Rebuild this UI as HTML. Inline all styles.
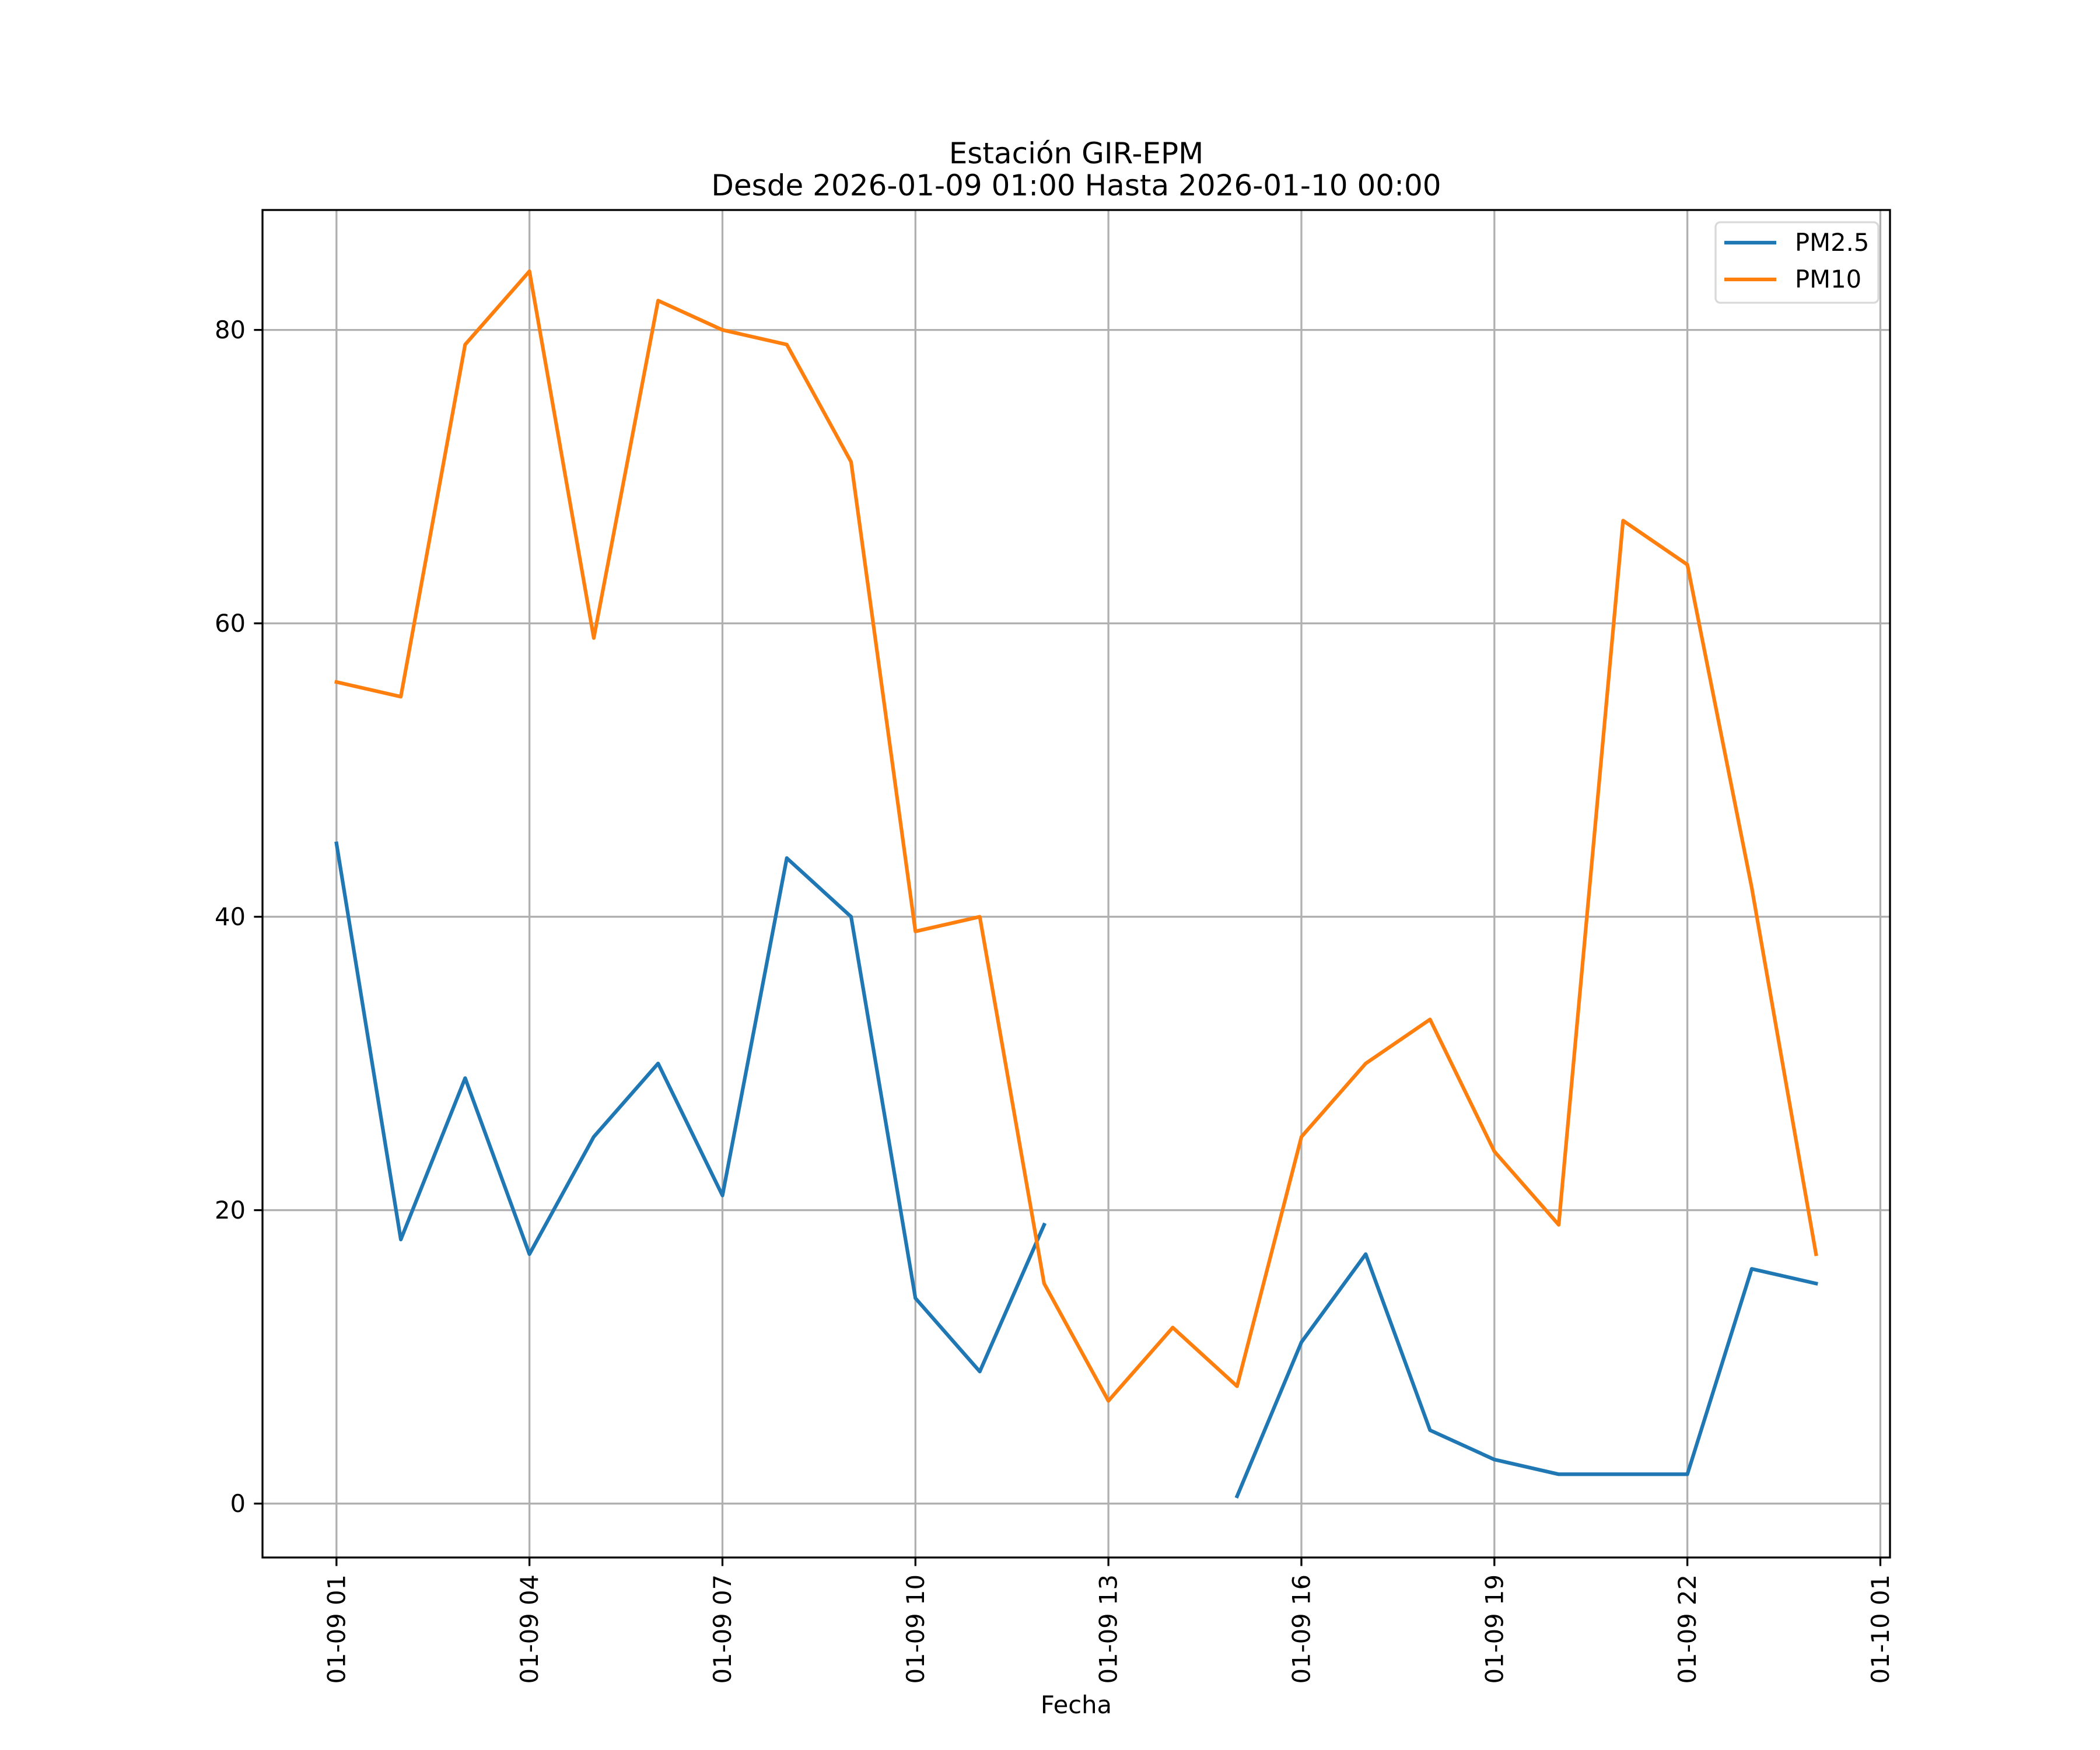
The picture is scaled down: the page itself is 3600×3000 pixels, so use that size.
<!DOCTYPE html>
<html><head><meta charset="utf-8"><style>
html,body{margin:0;padding:0;background:#fff;}
svg{display:block;font-family:"DejaVu Sans","Liberation Sans",sans-serif;}
</style></head><body>
<svg id="chart" width="3600" height="3000" viewBox="0 0 3600 3000" xmlns="http://www.w3.org/2000/svg">
<rect width="3600" height="3000" fill="#fff"/>
<text x="1845" y="280" font-size="50" text-anchor="middle">Estación GIR-EPM</text>
<text x="1845" y="335" font-size="50" text-anchor="middle">Desde 2026-01-09 01:00 Hasta 2026-01-10 00:00</text>
<g id="grid"></g>
<g id="series"></g>
<g id="axes"></g>
<text x="1845" y="2937" font-size="41.7" text-anchor="middle">Fecha</text>
<g>
<rect x="2941" y="381" width="279" height="138" rx="8" fill="#fff" fill-opacity="0.8" stroke="#d9d9d9" stroke-width="3.3"/>
<line x1="2956" y1="416" x2="3045" y2="416" stroke="#1f77b4" stroke-width="6.25"/>
<text x="3077" y="430" font-size="41.7">PM2.5</text>
<line x1="2956" y1="479" x2="3045" y2="479" stroke="#ff7f0e" stroke-width="6.25"/>
<text x="3077" y="493" font-size="41.7">PM10</text>
</g>
</svg>
<script>
const hours = [0,1,2,3,4,5,6,7,8,9,10,11,12,13,14,15,16,17,18,19,20,21,22,23];
const pm25 = [45,18,29,17,25,30,21,44,40,14,9,19,null,null,0.5,11,17,5,3,2,2,2,16,15];
const pm10 = [56,55,79,84,59,82,80,79,71,39,40,15,7,12,8,25,30,33,24,19,67,64,42,17];
const xTickHours = [0,3,6,9,12,15,18,21,24];
const xTickLabels = ["01-09 01","01-09 04","01-09 07","01-09 10","01-09 13","01-09 16","01-09 19","01-09 22","01-10 01"];
const yTicks = [0,20,40,60,80];

const L=450,R=3240,T=360,B=2670;
const XMIN=-1.15,XMAX=24.15,YMIN=-3.675,YMAX=88.175;
const NS="http://www.w3.org/2000/svg";
function sx(v){return L+(v-XMIN)/(XMAX-XMIN)*(R-L);}
function sy(v){return B-(v-YMIN)/(YMAX-YMIN)*(B-T);}
function mk(tag,attrs,parent){const e=document.createElementNS(NS,tag);for(const k in attrs)e.setAttribute(k,attrs[k]);parent.appendChild(e);return e;}
const grid=document.getElementById('grid'),axes=document.getElementById('axes'),series=document.getElementById('series');

xTickHours.forEach((h,i)=>{
  const x=sx(h);
  const g=mk('line',{x1:x,y1:T,x2:x,y2:B,stroke:'#b0b0b0','stroke-width':3.3},grid);
  
  
  const t=mk('line',{x1:x,y1:B,x2:x,y2:B+14.6,stroke:'#000','stroke-width':3.3},axes);
  
  
  const lb=mk('text',{x:0,y:0,'font-size':41.7,'text-anchor':'end','dominant-baseline':'central',transform:`translate(${x},${B+29}) rotate(-90)`},axes);
  lb.textContent=xTickLabels[i];
  
  
});
yTicks.forEach(v=>{
  const y=sy(v);
  const g=mk('line',{x1:L,y1:y,x2:R,y2:y,stroke:'#b0b0b0','stroke-width':3.3},grid);
  
  
  const t=mk('line',{x1:L-14.6,y1:y,x2:L,y2:y,stroke:'#000','stroke-width':3.3},axes);
  
  
  const lb=mk('text',{x:L-29,y:y,'font-size':41.7,'text-anchor':'end','dominant-baseline':'central'},axes);
  lb.textContent=String(v);
  
  
});
const frame=mk('rect',{x:L,y:T,width:R-L,height:B-T,fill:'none',stroke:'#000','stroke-width':3.3},axes);



function drawSeries(vals,color,name){
  let d='',pen=false;
  vals.forEach((v,i)=>{
    if(v===null){pen=false;return;}
    d+=(pen?'L':'M')+sx(hours[i]).toFixed(1)+' '+sy(v).toFixed(1)+' ';
    pen=true;
  });
  const p=mk('path',{d:d,fill:'none',stroke:color,'stroke-width':6.25,'stroke-linejoin':'round','stroke-linecap':'square'},series);
  
  
}
drawSeries(pm25,'#1f77b4','pm25-line');
drawSeries(pm10,'#ff7f0e','pm10-line');
</script>
</body></html>
